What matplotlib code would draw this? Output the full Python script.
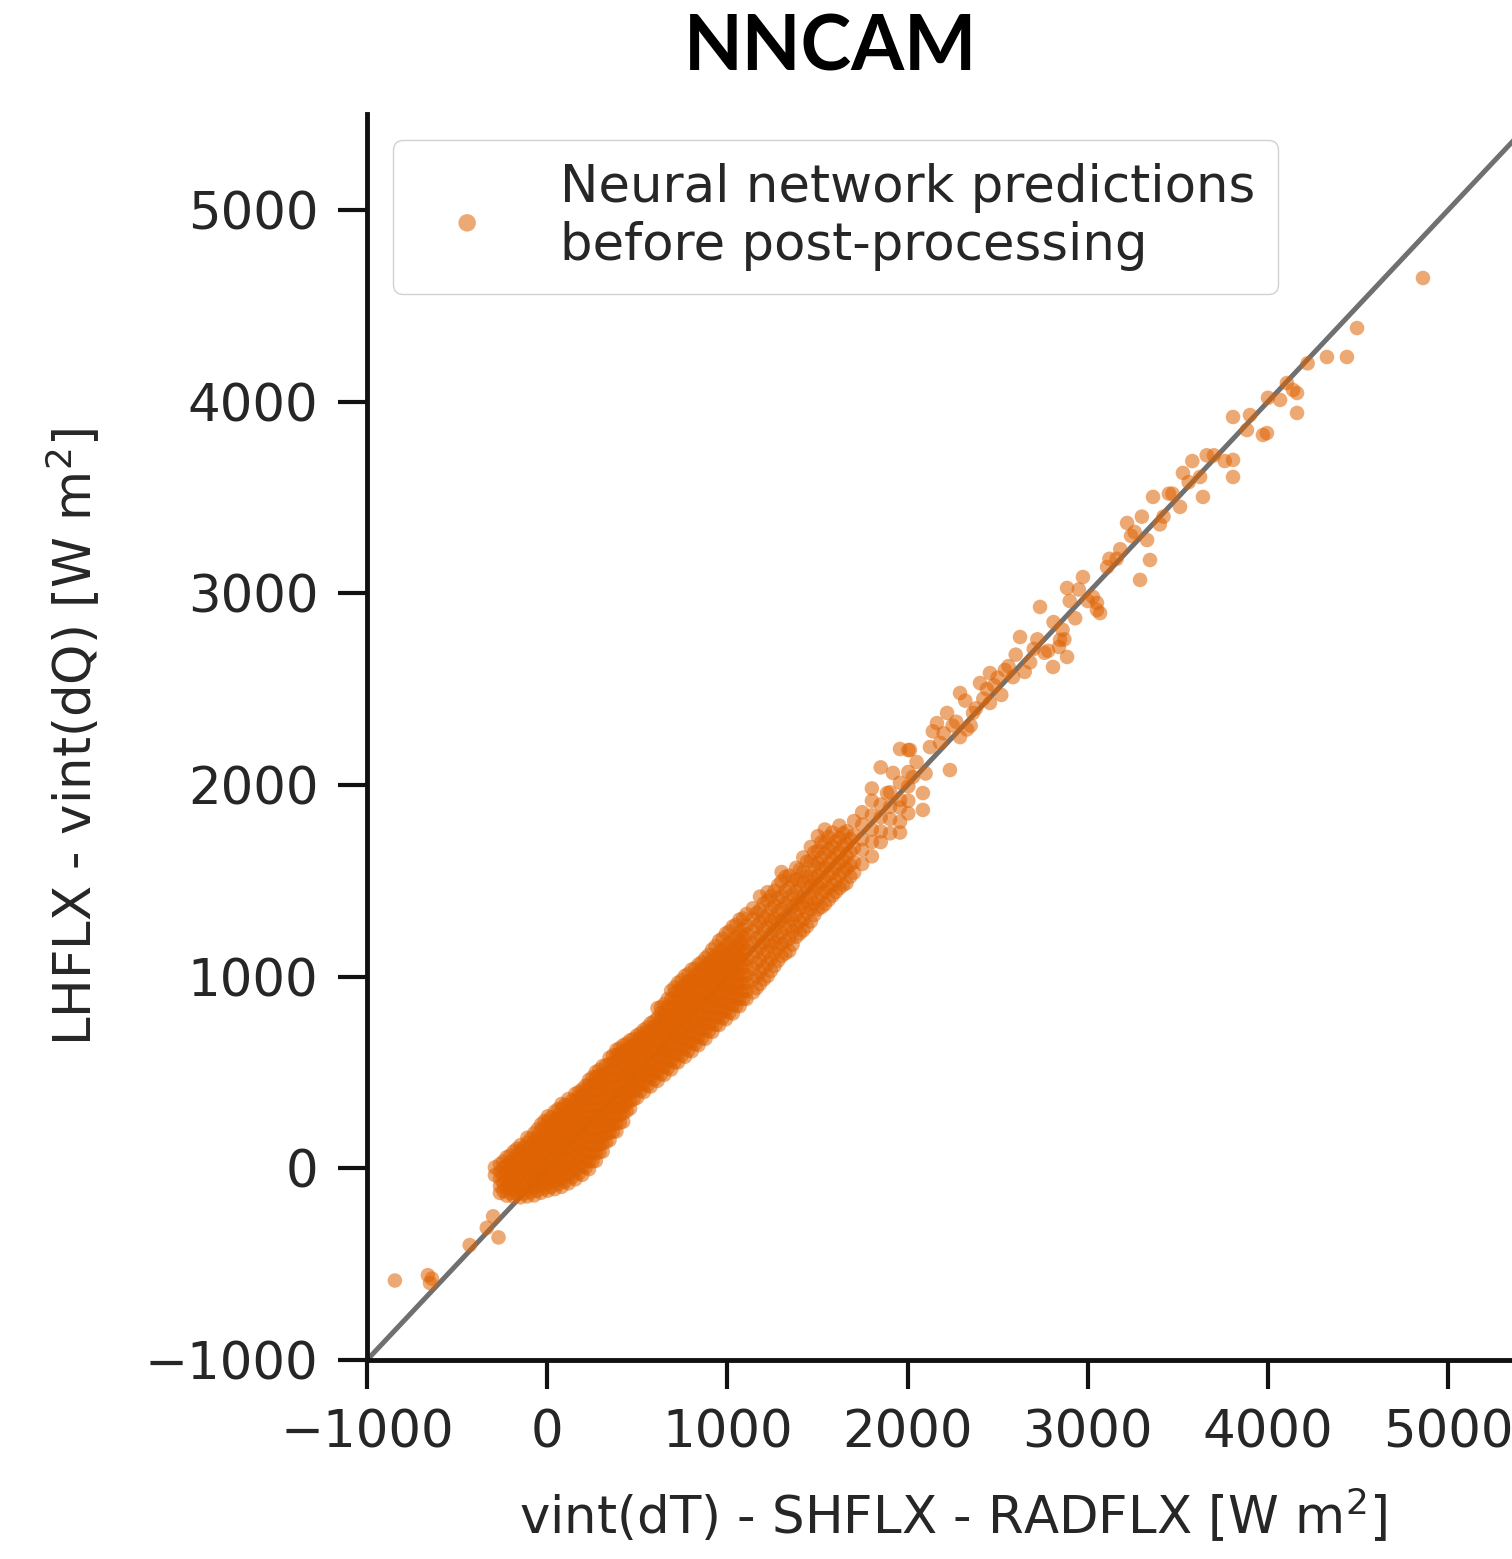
import numpy as np
import matplotlib
matplotlib.use("Agg")
import matplotlib.pyplot as plt

# dense core of the cloud: column x positions and the y values found in each column
core_x = [-290, -262, -225, -186, -148, -110, -72, -34, 4, 42, 80, 118, 156, 194,
          232, 270, 308, 346, 384, 422, 460, 498, 536, 574, 612, 650, 688, 726,
          764, 802, 840, 878, 916, 954, 992, 1030, 1068, 1106]
core_y = [
    [-35, 5],
    [-128, -92, -55, -18, 22],
    [-142, -101, -66, -24, 14, 58],
    [-148, -112, -71, -33, 8, 47, 88],
    [-151, -108, -73, -29, 12, 49, 93, 121],
    [-146, -104, -63, -27, 17, 54, 96, 133, 160],
    [-141, -99, -62, -18, 21, 63, 102, 141, 183],
    [-127, -86, -44, -7, 37, 73, 118, 152, 197, 230],
    [-116, -77, -33, 6, 43, 87, 124, 168, 206, 247, 272],
    [-108, -66, -27, 16, 57, 92, 137, 173, 218, 253, 296],
    [-96, -52, -12, 31, 68, 112, 148, 191, 232, 268, 311, 336],
    [-78, -34, 8, 47, 93, 128, 172, 211, 249, 292, 328, 362],
    [-57, -13, 28, 72, 111, 153, 193, 236, 271, 318, 352, 389],
    [-34, 9, 51, 94, 132, 174, 218, 256, 298, 337, 376, 412],
    [-4, 38, 77, 118, 162, 197, 241, 279, 322, 358, 401, 437, 461],
    [39, 78, 121, 158, 203, 238, 281, 318, 362, 398, 441, 476, 503],
    [88, 131, 167, 212, 248, 292, 327, 371, 408, 452, 487, 534],
    [148, 186, 228, 263, 308, 342, 387, 423, 466, 503, 546, 577],
    [193, 236, 272, 316, 353, 397, 431, 476, 512, 557, 591, 618],
    [244, 287, 323, 366, 402, 447, 483, 527, 562, 604, 642],
    [313, 352, 396, 433, 476, 512, 556, 593, 634, 668],
    [368, 414, 451, 494, 531, 573, 611, 654, 693],
    [398, 442, 483, 522, 566, 603, 646, 683, 722],
    [427, 473, 508, 553, 592, 634, 672, 714, 757],
    [456, 503, 541, 584, 621, 663, 703, 742, 784, 836],
    [488, 532, 573, 612, 654, 692, 734, 773, 813, 857],
    [516, 563, 602, 643, 683, 724, 762, 803, 843, 882, 927],
    [553, 598, 642, 681, 722, 762, 803, 841, 883, 922, 968],
    [582, 628, 671, 712, 753, 792, 833, 874, 912, 953, 1004],
    [611, 657, 703, 742, 784, 823, 864, 903, 942, 983, 1037],
    [643, 688, 733, 772, 813, 856, 893, 936, 974, 1018, 1064],
    [676, 722, 764, 806, 847, 887, 928, 967, 1008, 1052, 1097],
    [712, 757, 798, 843, 882, 926, 964, 1006, 1047, 1088, 1142],
    [748, 793, 836, 874, 918, 957, 1001, 1042, 1083, 1127, 1188],
    [778, 822, 867, 908, 948, 993, 1034, 1078, 1118, 1163, 1226],
    [808, 853, 897, 936, 982, 1021, 1066, 1106, 1148, 1197, 1262],
    [846, 887, 931, 973, 1012, 1057, 1096, 1141, 1183, 1232, 1298],
    [884, 926, 968, 1008, 1053, 1092, 1137, 1176, 1221, 1268, 1327],
]

# more of the core, between the columns above
core2_x = [-243, -205, -167, -129, -91, -53, -15, 23, 61, 99, 137, 175, 213, 251,
           289, 327, 365, 403, 441, 479, 517, 555, 593, 631, 669, 707, 745, 783,
           821, 859, 897, 935, 973, 1011, 1049, 1087]
core2_y = [
    [-118, -76, -39, 4, 36],
    [-129, -86, -47, -9, 33, 67],
    [-133, -93, -51, -13, 29, 66, 103],
    [-131, -88, -52, -9, 31, 72, 109],
    [-124, -85, -42, -3, 37, 74, 118, 155],
    [-116, -74, -36, 7, 44, 86, 123, 166, 204],
    [-103, -65, -22, 15, 57, 94, 138, 175, 217, 247],
    [-96, -53, -16, 27, 63, 106, 143, 186, 223, 266],
    [-82, -44, -2, 36, 78, 116, 158, 196, 238, 276, 309],
    [-69, -27, 13, 51, 93, 131, 173, 211, 253, 291, 331],
    [-47, -9, 33, 71, 113, 151, 193, 231, 273, 311, 353],
    [-27, 16, 53, 96, 133, 176, 213, 256, 293, 336, 373, 398],
    [4, 42, 84, 122, 164, 202, 244, 282, 324, 362, 404, 431],
    [37, 79, 117, 159, 197, 239, 277, 319, 357, 399, 437, 475],
    [84, 122, 164, 202, 244, 282, 324, 362, 404, 442, 484, 513],
    [137, 179, 217, 259, 297, 339, 377, 419, 457, 499, 537],
    [191, 229, 271, 309, 351, 389, 431, 469, 511, 549, 589],
    [237, 279, 317, 359, 397, 439, 477, 519, 557, 599, 627],
    [299, 337, 379, 417, 459, 497, 539, 577, 619, 651],
    [359, 401, 439, 481, 519, 561, 599, 641, 675],
    [404, 442, 484, 522, 564, 602, 644, 682, 704],
    [431, 473, 511, 553, 591, 633, 671, 713, 735],
    [462, 500, 542, 580, 622, 660, 702, 740, 767],
    [491, 533, 571, 613, 651, 693, 731, 773, 811, 841],
    [523, 561, 603, 641, 683, 721, 763, 801, 843, 884],
    [553, 595, 633, 675, 713, 755, 793, 835, 873, 915, 944],
    [588, 626, 668, 706, 748, 786, 828, 866, 908, 946, 981],
    [615, 657, 695, 737, 775, 817, 855, 897, 935, 977, 1014],
    [648, 686, 728, 766, 808, 846, 888, 926, 968, 1006, 1044],
    [679, 721, 759, 801, 839, 881, 919, 961, 999, 1041, 1076],
    [715, 753, 795, 833, 875, 913, 955, 993, 1035, 1073, 1114],
    [749, 791, 829, 871, 909, 951, 989, 1031, 1069, 1111, 1159],
    [784, 822, 864, 902, 944, 982, 1024, 1062, 1104, 1142, 1199],
    [812, 854, 892, 934, 972, 1014, 1052, 1094, 1132, 1174, 1237],
    [848, 886, 928, 966, 1008, 1046, 1088, 1126, 1168, 1206, 1271],
    [884, 926, 964, 1006, 1044, 1086, 1124, 1166, 1204, 1246, 1304],
]

# thinner part of the band, 1100 - 2000
mid_x = [1142, 1181, 1223, 1262, 1301, 1343, 1382, 1421, 1463, 1502, 1541,
         1583, 1622, 1661, 1703, 1748, 1802, 1851, 1903, 1958, 2004,
         1162, 1202, 1242, 1282, 1322, 1362, 1402, 1442, 1482, 1522, 1562,
         1602, 1642, 1682]
mid_y = [
    [918, 983, 1042, 1108, 1172, 1238, 1301, 1357],
    [962, 1024, 1087, 1153, 1209, 1283, 1348, 1418],
    [1003, 1068, 1132, 1188, 1254, 1317, 1397, 1441],
    [1057, 1123, 1178, 1243, 1302, 1372, 1448],
    [1108, 1172, 1228, 1293, 1352, 1418, 1497, 1546],
    [1134, 1197, 1263, 1321, 1388, 1462, 1527],
    [1208, 1262, 1323, 1378, 1443, 1508, 1568],
    [1242, 1298, 1362, 1418, 1493, 1548, 1622],
    [1288, 1353, 1408, 1472, 1528, 1603, 1677],
    [1352, 1407, 1473, 1528, 1592, 1657, 1733],
    [1378, 1443, 1502, 1568, 1643, 1698, 1768],
    [1423, 1478, 1542, 1612, 1678, 1752],
    [1462, 1528, 1592, 1648, 1723, 1788],
    [1488, 1563, 1628, 1692, 1758],
    [1543, 1598, 1672, 1738, 1812],
    [1588, 1662, 1718, 1793, 1858],
    [1628, 1703, 1768, 1842, 1918, 1982],
    [1702, 1758, 1832, 1898, 2092],
    [1748, 1822, 1887, 1962],
    [1752, 1808, 1882, 1922, 2012, 2188],
    [1852, 1918, 1993, 2068, 2182],
    [941, 1003, 1072, 1133, 1201, 1264, 1332],
    [986, 1048, 1117, 1178, 1246, 1309, 1382],
    [1031, 1093, 1162, 1223, 1291, 1354, 1419],
    [1084, 1152, 1213, 1282, 1343, 1411, 1478],
    [1122, 1183, 1252, 1313, 1381, 1448, 1521],
    [1168, 1237, 1298, 1367, 1428, 1502],
    [1226, 1288, 1357, 1418, 1487, 1558],
    [1263, 1332, 1393, 1462, 1523, 1601],
    [1322, 1383, 1452, 1513, 1582, 1648],
    [1363, 1432, 1493, 1562, 1623, 1702],
    [1401, 1463, 1532, 1593, 1662, 1728],
    [1442, 1503, 1572, 1638, 1707],
    [1478, 1547, 1608, 1682, 1748],
    [1522, 1583, 1652, 1718],
]

# scattered points along the upper part of the line
sparse_x = [1886, 1919, 2030, 2085, 2085, 2013, 2124, 2163, 2219, 2235, 2291,
            2291, 2363, 2402, 2457, 2457, 2585, 2624, 2735, 2807, 2846, 2885,
            2885, 3051, 3068, 3029, 2973, 3107, 3051, 3290, 3345, 3329, 3218,
            3362, 3512, 3528, 3623, 3639, 3806, 3806, 3806, 3883, 3972, 4067,
            4139, 4161, 4105, 4161, 3994, 4327, 4438, 4494, 4860,
            2180, 2250, 2330, 2420, 2520, 2560, 2680, 2700, 2760, 2840, 2860,
            2930, 2200, 2380, 2500, 3160, 3420, 3470, 3560, 3700, 3760, 3240,
            2050, 2100, 2140, 2270, 2320, 2350, 2440, 2480, 2540, 2600, 2650,
            2720, 2780, 2810, 2870, 2900, 2950, 3000, 3120, 3180, 3260, 3300,
            3400, 3450, 3580, 3660, 3900, 4000, 4220]
sparse_y = [1958, 2063, 2042, 1958, 1870, 2183, 2198, 2323, 2376, 2078, 2250,
            2480, 2376, 2532, 2584, 2428, 2563, 2772, 2929, 2616, 2757, 2668,
            3028, 2950, 2897, 2981, 3085, 3137, 2913, 3070, 3174, 3278, 3367,
            3503, 3451, 3628, 3607, 3503, 3696, 3607, 3920, 3852, 3826, 4009,
            4061, 3941, 4097, 4045, 3836, 4233, 4233, 4384, 4645,
            2220, 2310, 2290, 2450, 2470, 2620, 2640, 2710, 2690, 2720, 2810,
            2870, 2270, 2400, 2560, 3180, 3400, 3520, 3580, 3720, 3690, 3300,
            2120, 2060, 2280, 2330, 2440, 2310, 2500, 2520, 2600, 2680, 2590,
            2760, 2700, 2850, 2760, 2960, 3020, 2960, 3180, 3230, 3320, 3400,
            3360, 3520, 3690, 3720, 3930, 4020, 4200]

# isolated points below the cloud
low_x = [-845, -662, -650, -640, -430, -335, -270, -300]
low_y = [-585, -557, -598, -575, -400, -310, -360, -250]

xs, ys = [], []
for cols, vals in [(core_x, core_y), (core2_x, core2_y), (mid_x, mid_y)]:
    for cx, col in zip(cols, vals):
        xs += [cx] * len(col)
        ys += col
x = np.array(xs + sparse_x + low_x, dtype=float)
y = np.array(ys + sparse_y + low_y, dtype=float)

ink = '#262626'
fig = plt.figure(figsize=(15.12, 15.59), dpi=100)
ax = fig.add_axes([0.2427, 0.1276, 0.7747, 0.7992])

ax.plot([-1000, 5500], [-1000, 5500], color='#707070', lw=3.6, zorder=1)
ax.scatter(x, y, s=110, color='#DF6302', alpha=0.55, edgecolors='none',
           label='Neural network predictions\nbefore post-processing', zorder=2)

ax.set_xlim(-1000, 5500)
ax.set_ylim(-1000, 5500)
ax.set_xticks(range(-1000, 5001, 1000))
ax.set_yticks(range(-1000, 5001, 1000))
for side in ['top', 'right']:
    ax.spines[side].set_visible(False)
for side in ['left', 'bottom']:
    ax.spines[side].set_linewidth(3.5)
    ax.spines[side].set_color('#111111')
ax.tick_params(length=21, width=3, labelsize=37, pad=14,
               color='#111111', labelcolor=ink)

ax.set_xlabel('vint(dT) - SHFLX - RADFLX [W m$^2$]', fontsize=37, color=ink, labelpad=20)
ax.set_ylabel('LHFLX - vint(dQ) [W m$^2$]', fontsize=37, color=ink, labelpad=30)

leg = ax.legend(loc='upper left', fontsize=37, markerscale=1.2, frameon=True,
                fancybox=True, framealpha=0.9, edgecolor='#cccccc',
                handletextpad=0.8, borderpad=0.45)
for t in leg.get_texts():
    t.set_color(ink)

fig.text(0.549, 0.969, 'NNCAM', ha='center', va='center', fontsize=55,
         fontweight='bold', family='Lato', color='black')

fig.savefig('out.png', dpi=100)
